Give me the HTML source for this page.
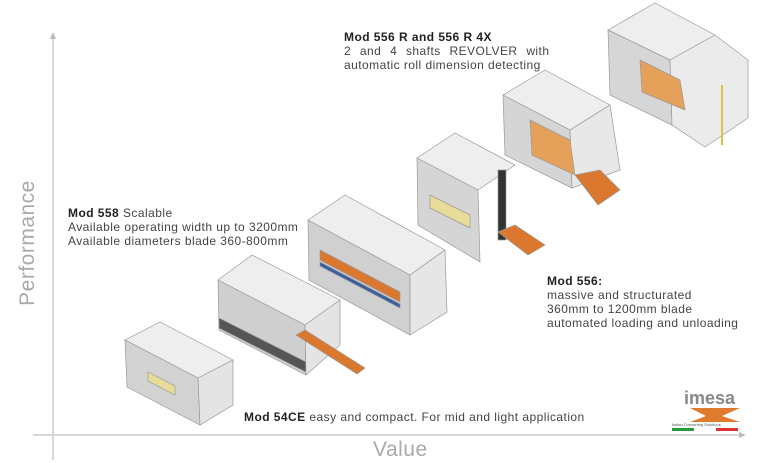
<!DOCTYPE html>
<html><head><style>
body{margin:0;width:780px;height:463px;background:#fff;position:relative;overflow:hidden;font-family:"Liberation Sans",sans-serif;color:#444}
.t{position:absolute;font-size:12px;letter-spacing:0.45px;line-height:14px;white-space:nowrap}
b{color:#222}
</style></head><body>
<svg width="780" height="463" style="position:absolute;left:0;top:0">
<line x1="53" y1="38" x2="53" y2="460" stroke="#ccc" stroke-width="1.5"/>
<polygon points="53,32 50,39 56,39" fill="#bbb"/>
<line x1="33" y1="435" x2="740" y2="435" stroke="#ccc" stroke-width="1.5"/>
<polygon points="746,435 739,432 739,438" fill="#bbb"/>
<g stroke="#999" stroke-width="0.7">
<polygon points="125,340 160,322 233,360 198,378" fill="#eee"/>
<polygon points="125,340 198,378 200,425 127,387" fill="#d2d2d2"/>
<polygon points="198,378 233,360 233,405 200,425" fill="#e4e4e4"/>
<polygon points="148,372 175,386 175,395 148,381" fill="#e8dc9a"/>
<polygon points="218,280 252,255 340,300 305,325" fill="#eee"/>
<polygon points="218,280 305,325 306,375 219,330" fill="#cfcfcf"/>
<polygon points="219,318 306,362 306,372 219,328" fill="#555"/>
<polygon points="305,325 340,300 340,345 306,375" fill="#e4e4e4"/>
<polygon points="296,335 305,330 365,368 357,374" fill="#d9782e"/>
<polygon points="308,220 345,195 445,250 410,275" fill="#eee"/>
<polygon points="308,220 410,275 410,335 309,280" fill="#d0d0d0"/>
<polygon points="320,250 400,292 400,302 320,260" fill="#d9782e"/>
<polygon points="320,262 400,304 400,308 320,266" fill="#3b5f9e"/>
<polygon points="410,275 445,250 447,312 410,335" fill="#e6e6e6"/>
<polygon points="417,158 455,133 515,165 478,190" fill="#eee"/>
<polygon points="417,158 478,190 480,262 418,225" fill="#d5d5d5"/>
<polygon points="430,195 470,215 470,228 430,208" fill="#e8dc9a"/>
<rect x="498" y="170" width="8" height="70" fill="#333"/>
<polygon points="498,232 515,225 545,245 528,255" fill="#d9782e"/>
<polygon points="503,95 545,70 610,105 570,130" fill="#eee"/>
<polygon points="503,95 570,130 572,188 505,155" fill="#d5d5d5"/>
<polygon points="570,130 610,105 620,170 572,188" fill="#e8e8e8"/>
<polygon points="530,120 570,140 575,175 532,155" fill="#e5a05a"/>
<polygon points="575,175 600,170 620,190 598,205" fill="#d9782e"/>
<polygon points="608,30 655,3 715,35 670,60" fill="#eee"/>
<polygon points="608,30 670,60 672,125 610,95" fill="#d6d6d6"/>
<polygon points="670,60 715,35 748,60 748,118 705,147 672,125" fill="#ebebeb"/>
<polygon points="640,60 680,80 685,110 642,92" fill="#e5a05a"/>
<line x1="722" y1="85" x2="722" y2="145" stroke="#d8c44a" stroke-width="2"/>
</g>
<text x="684" y="404" font-family="Liberation Sans" font-weight="bold" font-size="18" fill="#888">imesa</text>
<polygon points="690,408 740,408 722,416 740,422 690,422 706,416" fill="#e07b2e"/>
<text x="672" y="426" font-family="Liberation Sans" font-size="4" fill="#555">Italian Converting Solutions</text>
<rect x="672" y="428" width="22" height="3" fill="#2a9a3a"/><rect x="716" y="428" width="22" height="3" fill="#d33"/>
</svg>
<div class="t" style="left:344px;top:30px"><b>Mod 556 R and 556 R 4X</b></div>
<div class="t" style="left:344px;top:44px;word-spacing:5px">2 and 4 shafts REVOLVER with</div>
<div class="t" style="left:344px;top:58px">automatic roll dimension detecting</div>
<div class="t" style="left:68px;top:206px"><b>Mod 558</b> Scalable</div>
<div class="t" style="left:68px;top:220px">Available operating width up to 3200mm</div>
<div class="t" style="left:68px;top:234px">Available diameters blade 360-800mm</div>
<div class="t" style="left:547px;top:274px"><b>Mod 556:</b></div>
<div class="t" style="left:547px;top:288px">massive and structurated</div>
<div class="t" style="left:547px;top:302px">360mm to 1200mm blade</div>
<div class="t" style="left:547px;top:316px">automated loading and unloading</div>
<div class="t" style="left:244px;top:410px"><b>Mod 54CE</b> easy and compact. For mid and light application</div>
<div class="t" style="left:373px;top:438px;font-size:21px;line-height:24px;color:#aaa;letter-spacing:0.5px">Value</div>
<div class="t" style="left:-37px;top:231px;font-size:21px;line-height:24px;color:#aaa;letter-spacing:0.5px;transform:rotate(-90deg);width:130px;text-align:center">Performance</div>
</body></html>
